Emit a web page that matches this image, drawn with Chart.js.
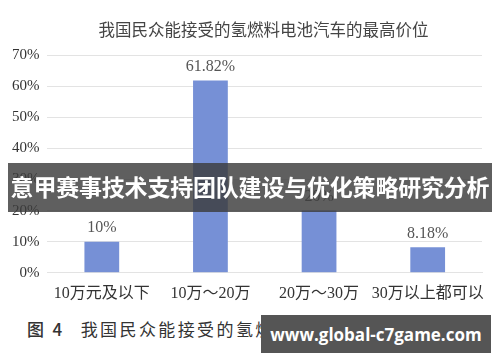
<!DOCTYPE html>
<html lang="zh">
<head>
<meta charset="UTF-8" />
<title>最高价位</title>
<script src="https://cdn.jsdelivr.net/npm/chart.js@4.4.0/dist/chart.umd.min.js"></script>
<style>
  body { margin: 0; background: #fff; width: 500px; height: 362px; overflow: hidden; position: relative; }
  .chart-box { position: absolute; left: 0; top: 0; width: 500px; height: 306px; }
  .title {
    position: absolute; left: 45px; width: 437px; top: 17px; text-align: center;
    font-family: "Liberation Serif", "Noto Sans CJK SC", serif; font-size: 16.5px; color: #444; white-space: nowrap;
  }
  .banner {
    position: absolute; left: 8px; top: 163px; width: 484px; height: 49px;
    background: rgba(60, 60, 60, 0.82); color: #fff;
    font-family: "Noto Sans CJK SC", sans-serif; font-weight: bold; font-size: 23px;
    line-height: 46px; text-align: center; white-space: nowrap; letter-spacing: -0.2px;
  }
  .caption {
    position: absolute; left: 27px; top: 316px;
    font-family: "Noto Sans CJK SC", sans-serif; font-size: 17px; color: #333; white-space: nowrap;
    letter-spacing: 2.4px;
  }
  .caption b { margin-right: 16px; font-weight: 500; }
  .mark {
    position: absolute; left: 261px; top: 315px; width: 230px; height: 38px;
    background: #555; color: #fff; font-family: "Open Sans", sans-serif; font-weight: bold;
    font-size: 17px; line-height: 40px; text-align: center;
  }
</style>
</head>
<body>
<div class="chart-box"><canvas id="priceChart"></canvas></div>
<div class="title">我国民众能接受的氢燃料电池汽车的最高价位</div>
<div class="banner">意甲赛事技术支持团队建设与优化策略研究分析</div>
<div class="caption"><b>图 4</b>我国民众能接受的氢燃料电池汽车的最高价位</div>
<div class="mark">www.global-c7game.com</div>
<script>
const categories = ['10万元及以下', '10万～20万', '20万～30万', '30万以上都可以'];
const shares = [10, 61.82, 20, 8.18];
const shareLabels = ['10%', '61.82%', '20%', '8.18%'];
const yTicks = [0, 10, 20, 30, 40, 50, 60, 70];

const fontFace = '"Liberation Serif", "Noto Sans CJK SC", serif';

// labels above each bar
const barLabels = {
  id: 'barLabels',
  afterDatasetsDraw(chart) {
    const ctx = chart.ctx;
    const meta = chart.getDatasetMeta(0);
    ctx.save();
    ctx.font = '16px ' + fontFace;
    ctx.fillStyle = '#555';
    ctx.textAlign = 'center';
    ctx.textBaseline = 'bottom';
    meta.data.forEach((bar, i) => {
      ctx.fillText(shareLabels[i], bar.x, bar.y - 6);
    });
    ctx.restore();
  }
};

new Chart(document.getElementById('priceChart'), {
  type: 'bar',
  data: {
    labels: categories,
    datasets: [{
      data: shares,
      backgroundColor: '#7690d6',
      categoryPercentage: 1,
      barPercentage: 0.32
    }]
  },
  options: {
    responsive: true,
    maintainAspectRatio: false,
    animation: false,
    layout: { padding: { left: 4, right: 18, top: 55, bottom: 0 } },
    plugins: {
      legend: { display: false },
      tooltip: { enabled: false },
      title: { display: false }
    },
    scales: {
      x: {
        grid: { display: false },
        border: { color: '#e3e3e3' },
        ticks: {
          color: '#333',
          font: { family: fontFace, size: 16 },
          maxRotation: 0,
          autoSkip: false,
          padding: 3
        }
      },
      y: {
        min: 0,
        max: 70,
        afterBuildTicks(axis) { axis.ticks = yTicks.map(v => ({ value: v })); },
        grid: { color: '#e3e3e3', drawTicks: false },
        border: { display: false },
        ticks: {
          color: '#333',
          font: { family: fontFace, size: 15 },
          padding: 8,
          callback: v => v + '%'
        }
      }
    }
  },
  plugins: [barLabels]
});
</script>
</body>
</html>
